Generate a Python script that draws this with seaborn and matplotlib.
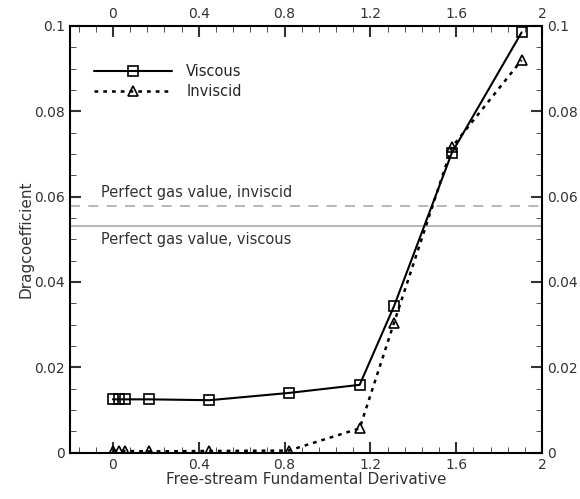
import numpy as np
import pandas as pd
import matplotlib
matplotlib.use("Agg")
import matplotlib.pyplot as plt
from matplotlib.ticker import MultipleLocator
import seaborn as sns

# data
deriv = [0.0, 0.03, 0.055, 0.17, 0.45, 0.82, 1.15, 1.31, 1.58, 1.905]
cd_viscous = [0.0125, 0.0125, 0.0125, 0.0125, 0.0123, 0.0140, 0.0159, 0.0343, 0.0703, 0.0985]
cd_inviscid = [0.0005, 0.0005, 0.0004, 0.0003, 0.0004, 0.0005, 0.0057, 0.0304, 0.0716, 0.0920]
perfect_inviscid = 0.0578
perfect_viscous = 0.0531
xticks = [0, 0.4, 0.8, 1.2, 1.6, 2]
xticklabels = ["0", "0.4", "0.8", "1.2", "1.6", "2"]
yticks = [0, 0.02, 0.04, 0.06, 0.08, 0.1]
yticklabels = ["0", "0.02", "0.04", "0.06", "0.08", "0.1"]

df = pd.DataFrame({"G": deriv, "Viscous": cd_viscous, "Inviscid": cd_inviscid})

sns.set_style("ticks")
plt.rcParams['font.family'] = ['DejaVu Sans']

fig = plt.figure(figsize=(5.8, 4.99), dpi=100)
ax = fig.add_axes([0.1207, 0.0928, 0.8138, 0.8552])

# reference lines
ax.axhline(perfect_inviscid, color='#aaaaaa', lw=1.2, ls=(0, (6, 5)))
ax.axhline(perfect_viscous, color='#aaaaaa', lw=1.2)
ax.text(-0.055, perfect_inviscid + 0.0015, "Perfect gas value, inviscid", fontsize=10.5,
        color='#333333', ha='left', va='bottom')
ax.text(-0.055, perfect_viscous - 0.0015, "Perfect gas value, viscous", fontsize=10.5,
        color='#333333', ha='left', va='top')

sns.lineplot(data=df, x="G", y="Viscous", ax=ax, color='black', lw=1.5,
             marker='s', markersize=7, markerfacecolor='none',
             markeredgecolor='black', markeredgewidth=1.2, label="Viscous")
sns.lineplot(data=df, x="G", y="Inviscid", ax=ax, color='black', lw=1.8,
             linestyle=(0, (1.5, 2)), marker='^', markersize=7.5,
             markerfacecolor='none', markeredgecolor='black',
             markeredgewidth=1.2, label="Inviscid")

ax.set_xlim(-0.2, 2)
ax.set_ylim(0, 0.1)
ax.set_xticks(xticks)
ax.set_xticklabels(xticklabels)
ax.set_yticks(yticks)
ax.set_yticklabels(yticklabels)
ax.xaxis.set_minor_locator(MultipleLocator(0.08))
ax.yaxis.set_minor_locator(MultipleLocator(0.005))
ax.tick_params(which='both', direction='in', top=True, right=True,
               labeltop=True, labelright=True, labelsize=10, colors='#333333')
ax.tick_params(which='major', length=8, width=1.5)
ax.tick_params(which='minor', length=4, width=0.6)
for s in ax.spines.values():
    s.set_linewidth(1.5)
    s.set_color('black')

ax.set_xlabel("Free-stream Fundamental Derivative", fontsize=11, color='#333333', labelpad=0)
ax.set_ylabel("Dragcoefficient", fontsize=11, color='#333333', labelpad=1)

leg = ax.legend(loc='upper left', bbox_to_anchor=(0.03, 0.935), frameon=False,
                fontsize=10.5, handlelength=5.3, handletextpad=1.0,
                borderaxespad=0.3, labelspacing=0.35)

fig.savefig("out.png", dpi=100)
